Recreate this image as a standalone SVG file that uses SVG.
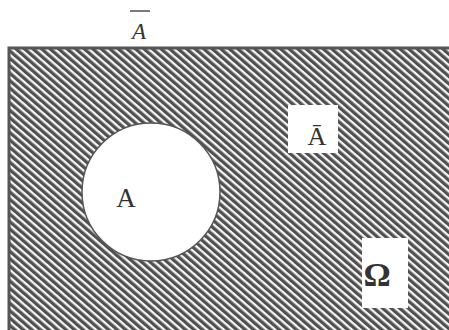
<svg xmlns="http://www.w3.org/2000/svg" width="449" height="330" viewBox="0 0 449 330">
<defs>
<pattern id="hatch" patternUnits="userSpaceOnUse" width="5.6" height="5.6" patternTransform="rotate(-49)">
<rect x="0" y="0" width="5.6" height="5.6" fill="#f6f6f6"/>
<rect x="0" y="0" width="3.3" height="5.6" fill="#505050"/>
</pattern>
<style>
.lbl{font-family:"Liberation Serif","DejaVu Serif",serif;fill:#333}
</style>
</defs>
<rect width="449" height="330" fill="#ffffff"/>
<g id="omega">
<rect x="9" y="48" width="470" height="300" fill="url(#hatch)" stroke="#555" stroke-width="3"/>
</g>
<g id="setA">
<circle cx="151" cy="192" r="69" fill="#ffffff" stroke="#555" stroke-width="1.5"/>
<text class="lbl" x="126" y="207" font-size="27" text-anchor="middle">A</text>
</g>
<g id="complement-label">
<rect x="288" y="105" width="50" height="48" fill="#ffffff"/>
<text class="lbl" x="317" y="145" font-size="26" text-anchor="middle">Ā</text>
</g>
<g id="omega-label">
<rect x="362" y="238" width="46" height="70" fill="#ffffff"/>
<text class="lbl" x="377" y="286" font-size="34" font-weight="bold" text-anchor="middle">Ω</text>
</g>
<g id="title">
<text class="lbl" x="139" y="39" font-size="23" font-style="italic" text-anchor="middle">A</text>
<line x1="130" y1="11" x2="150" y2="11" stroke="#333" stroke-width="1.3"/>
</g>
<g id="connectors"/>
</svg>
